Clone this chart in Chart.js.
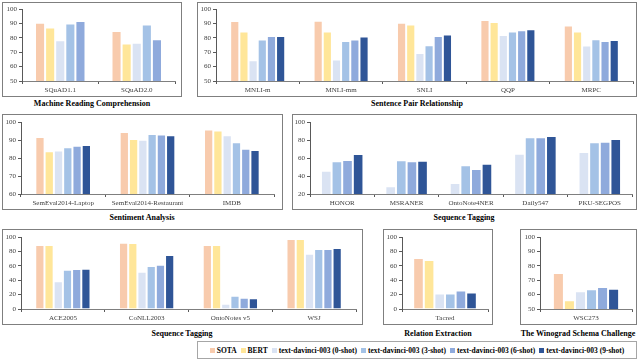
<!DOCTYPE html>
<html>
<head>
<meta charset="utf-8">
<script src="https://cdn.jsdelivr.net/npm/chart.js@4.4.0/dist/chart.umd.min.js"></script>
<style>
  html,body{margin:0;padding:0;background:#fff;}
  body{width:640px;height:361px;position:relative;overflow:hidden;font-family:"Liberation Serif","DejaVu Serif",serif;}
  .box{position:absolute;border:1px solid #7f7f7f;box-sizing:border-box;}
  canvas{position:absolute;}
  .title{position:absolute;font-weight:bold;font-size:8px;color:#000;text-align:center;white-space:nowrap;transform:translateX(-50%);}
  #legend{position:absolute;left:197px;top:341px;width:440px;height:18px;border:1px solid #a6a6a6;box-sizing:border-box;display:flex;align-items:center;justify-content:center;font-weight:bold;font-size:7.5px;white-space:nowrap;}
  #legend span.item{display:inline-flex;align-items:center;margin:0 2px;}
  #legend span.sw{display:inline-block;width:5px;height:5px;margin-right:2px;}
</style>
</head>
<body>
<script>
// ---- series names & colours ----
const seriesNames = ['SOTA','BERT','text-davinci-003 (0-shot)','text-davinci-003 (3-shot)','text-davinci-003 (6-shot)','text-davinci-003 (9-shot)'];
const seriesColors = ['#F8CBAD','#FFE699','#DAE3F3','#A4C2E6','#8FAADC','#2F5597'];

// ---- Machine Reading Comprehension ----
const mrcCategories = ['SQuAD1.1','SQuAD2.0'];
const mrcSOTA = [90.5, 84.7];
const mrcBERT = [87.2, 76.0];
const mrcShot0 = [78.3, 76.5];
const mrcShot3 = [90.0, 89.3];
const mrcShot6 = [91.6, 79.0];
const mrcShot9 = [null, null];

// ---- Sentence Pair Relationship ----
const sprCategories = ['MNLI-m','MNLI-mm','SNLI','QQP','MRPC'];
const sprSOTA = [91.6, 91.9, 90.5, 92.3, 88.6];
const sprBERT = [84.4, 84.4, 89.3, 90.9, 84.4];
const sprShot0 = [64.4, 64.9, 69.5, 81.9, 74.7];
const sprShot3 = [78.8, 77.7, 74.9, 84.4, 79.0];
const sprShot6 = [81.2, 78.8, 81.2, 85.3, 77.7];
const sprShot9 = [81.2, 80.9, 82.3, 86.0, 78.4];

// ---- Sentiment Analysis ----
const saCategories = ['SemEval2014-Laptop','SemEval2014-Restaurant','IMDB'];
const saSOTA = [91.6, 94.4, 95.9];
const saBERT = [83.8, 90.5, 95.3];
const saShot0 = [84.2, 90.1, 92.6];
const saShot3 = [86.0, 93.3, 88.7];
const saShot6 = [86.8, 93.1, 85.1];
const saShot9 = [87.2, 92.7, 84.4];

// ---- Sequence Tagging (Chinese) ----
const st1Categories = ['HONOR','MSRANER','OntoNote4NER','Daily547','PKU-SEGPOS'];
const st1SOTA = [null, null, null, null, null];
const st1BERT = [null, null, null, null, null];
const st1Shot0 = [45.9, 28.5, 32.2, 64.8, 66.7];
const st1Shot3 = [56.3, 57.4, 51.9, 83.0, 77.4];
const st1Shot6 = [57.8, 56.3, 47.8, 83.0, 78.1];
const st1Shot9 = [64.4, 57.0, 53.7, 84.4, 81.1];

// ---- Sequence Tagging (English) ----
const st2Categories = ['ACE2005','CoNLL2003','OntoNotes v5','WSJ'];
const st2SOTA = [88.9, 92.1, 88.9, 97.2];
const st2BERT = [88.9, 91.7, 88.9, 97.2];
const st2Shot0 = [38.4, 51.9, 7.4, 76.9];
const st2Shot3 = [54.6, 59.7, 18.5, 83.3];
const st2Shot6 = [55.6, 61.6, 15.7, 83.3];
const st2Shot9 = [56.0, 75.0, 14.8, 84.7];

// ---- Relation Extraction ----
const reCategories = ['Tacred'];
const reSOTA = [70.7];
const reBERT = [67.9];
const reShot0 = [21.4];
const reShot3 = [21.4];
const reShot6 = [25.6];
const reShot9 = [22.8];

// ---- Winograd Schema Challenge ----
const wscCategories = ['WSC273'];
const wscSOTA = [75.0];
const wscBERT = [56.0];
const wscShot0 = [62.3];
const wscShot3 = [63.8];
const wscShot6 = [65.2];
const wscShot9 = [64.0];

// ---- y-axis tick ranges ----
const mrcTicks = [50, 100, 10];
const sprTicks = [50, 100, 10];
const saTicks = [60, 100, 10];
const st1Ticks = [20, 100, 20];
const st2Ticks = [0, 100, 20];
const reTicks = [0, 100, 20];
const wscTicks = [50, 100, 10];

const panels = [
  {cats: mrcCategories, series:[mrcSOTA,mrcBERT,mrcShot0,mrcShot3,mrcShot6,mrcShot9], ticks: mrcTicks,
   box:[2,2,180,95], yw:20, pad:{top:7,right:7}, cp:0.66, title:'Machine Reading Comprehension', tx:92, ty:99},
  {cats: sprCategories, series:[sprSOTA,sprBERT,sprShot0,sprShot3,sprShot6,sprShot9], ticks: sprTicks,
   box:[197,2,440,95], yw:19, pad:{top:7,right:4}, cp:0.66, title:'Sentence Pair Relationship', tx:417, ty:99},
  {cats: saCategories, series:[saSOTA,saBERT,saShot0,saShot3,saShot6,saShot9], ticks: saTicks,
   box:[2,114,281,96], yw:19, pad:{top:8,right:9}, cp:0.66, title:'Sentiment Analysis', tx:142, ty:213},
  {cats: st1Categories, series:[st1SOTA,st1BERT,st1Shot0,st1Shot3,st1Shot6,st1Shot9], ticks: st1Ticks,
   box:[292,114,345,96], yw:18, pad:{top:8,right:5}, cp:0.66, title:'Sequence Tagging', tx:464, ty:213},
  {cats: st2Categories, series:[st2SOTA,st2BERT,st2Shot0,st2Shot3,st2Shot6,st2Shot9], ticks: st2Ticks,
   box:[2,229,361,96], yw:19, pad:{top:8,right:7}, cp:0.66, title:'Sequence Tagging', tx:182, ty:329},
  {cats: reCategories, series:[reSOTA,reBERT,reShot0,reShot3,reShot6,reShot9], ticks: reTicks,
   box:[383,229,110,96], yw:19, pad:{top:8,right:5}, cp:0.74, title:'Relation Extraction', tx:438, ty:329},
  {cats: wscCategories, series:[wscSOTA,wscBERT,wscShot0,wscShot3,wscShot6,wscShot9], ticks: wscTicks,
   box:[520,229,117,96], yw:20, pad:{top:8,right:5}, cp:0.72, title:'The Winograd Schema Challenge', tx:578, ty:329}
];

const FONT = {family:'"Liberation Serif", "Times New Roman", serif', size:7};

panels.forEach(p => {
  const [x,y,w,h] = p.box;
  const box = document.createElement('div');
  box.className = 'box';
  Object.assign(box.style,{left:x+'px',top:y+'px',width:w+'px',height:h+'px'});
  document.body.appendChild(box);

  const cv = document.createElement('canvas');
  cv.width = w; cv.height = h;
  Object.assign(cv.style,{left:x+'px',top:y+'px',width:w+'px',height:h+'px'});
  document.body.appendChild(cv);

  const t = document.createElement('div');
  t.className = 'title';
  t.textContent = p.title;
  Object.assign(t.style,{left:p.tx+'px',top:p.ty+'px'});
  document.body.appendChild(t);

  const datasets = [];
  p.series.forEach((arr,i) => {
    if (arr.some(v => v !== null)) {
      datasets.push({label:seriesNames[i], data:arr, backgroundColor:seriesColors[i],
        borderColor:'rgba(255,255,255,0.9)', borderWidth:1, barPercentage:1.0, categoryPercentage:p.cp});
    }
  });

  new Chart(cv, {
    type:'bar',
    data:{labels:p.cats, datasets},
    options:{
      responsive:false, animation:false, devicePixelRatio:1,
      layout:{padding:{left:0, top:p.pad.top, right:p.pad.right, bottom:0}},
      plugins:{legend:{display:false}, tooltip:{enabled:false}},
      scales:{
        x:{
          grid:{display:true, drawOnChartArea:false, drawTicks:true, tickLength:3, color:'#595959', offset:true},
          border:{display:true, color:'#7f7f7f', width:1},
          ticks:{font:FONT, color:'#404040', padding:2, maxRotation:0, autoSkip:false},
          afterFit: s => { s.height = 16; }
        },
        y:{
          min:p.ticks[0], max:p.ticks[1],
          grid:{display:true, drawOnChartArea:false, drawTicks:true, tickLength:3, color:'#595959'},
          border:{display:true, color:'#595959', width:1},
          ticks:{stepSize:p.ticks[2], font:FONT, color:'#404040', padding:2},
          afterFit: s => { s.width = p.yw; }
        }
      }
    }
  });
});

// ---- shared legend ----
const lg = document.createElement('div');
lg.id = 'legend';
seriesNames.forEach((n,i) => {
  const it = document.createElement('span'); it.className='item';
  const sw = document.createElement('span'); sw.className='sw'; sw.style.background = seriesColors[i];
  it.appendChild(sw);
  it.appendChild(document.createTextNode(n));
  lg.appendChild(it);
});
document.body.appendChild(lg);
</script>
</body>
</html>
